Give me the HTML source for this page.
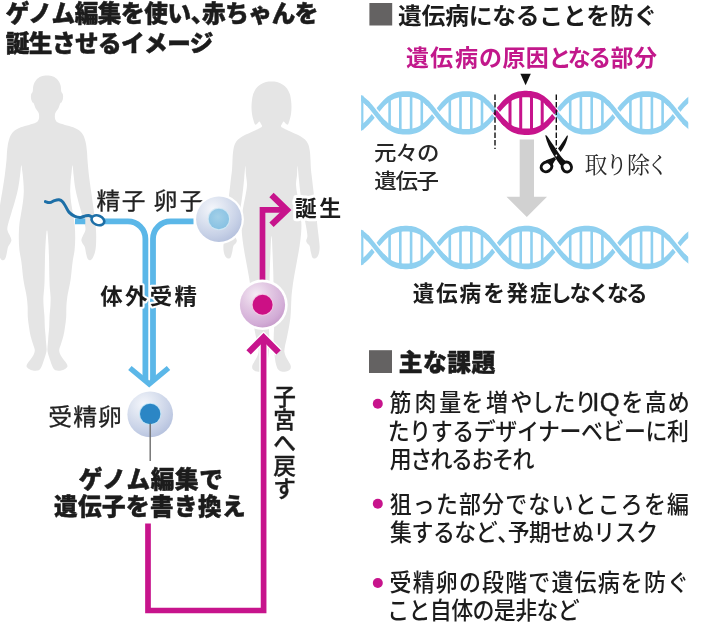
<!DOCTYPE html>
<html lang="ja"><head><meta charset="utf-8"><title>ゲノム編集を使い、赤ちゃんを誕生させるイメージ</title>
<style>
html,body{margin:0;padding:0;background:#fff;}
body{width:701px;height:628px;overflow:hidden;}
svg{display:block;will-change:transform;}
text{white-space:pre;}
</style></head><body>
<svg width="701" height="628" viewBox="0 0 701 628">
<defs>
<radialGradient id="gEgg" cx="0.36" cy="0.28" r="0.78">
<stop offset="0" stop-color="#f4f6fb"/><stop offset="0.35" stop-color="#dfe5f1"/><stop offset="0.75" stop-color="#c6d0e6"/><stop offset="1" stop-color="#b4c0dd"/>
</radialGradient>
<radialGradient id="gEggIn" cx="0.45" cy="0.4" r="0.7">
<stop offset="0" stop-color="#a3d0e8"/><stop offset="1" stop-color="#83bfe2"/>
</radialGradient>
<radialGradient id="gMag" cx="0.36" cy="0.28" r="0.8">
<stop offset="0" stop-color="#f5ebf5"/><stop offset="0.4" stop-color="#e2c8e3"/><stop offset="0.8" stop-color="#d2acd6"/><stop offset="1" stop-color="#c497c8"/>
</radialGradient>
</defs>
<rect width="701" height="628" fill="#fff"/>

<path fill="#e5e5e5" d="M47.0,75.5 C49.0,75.5 51.2,75.8 53.0,76.6 C54.8,77.3 56.5,78.5 57.8,80.0 C59.1,81.5 60.0,83.6 60.6,85.5 C61.2,87.4 60.9,90.0 61.3,91.5 C61.7,93.0 62.6,93.2 62.9,94.5 C63.2,95.8 63.1,97.7 62.9,99.0 C62.6,100.3 61.8,101.8 61.4,102.6 C61.0,103.3 60.7,102.5 60.2,103.5 C59.7,104.5 59.1,107.0 58.3,108.5 C57.5,110.0 56.2,111.3 55.6,112.5 C55.0,113.7 55.0,114.3 54.9,115.5 C54.8,116.7 54.8,118.3 55.3,119.5 C55.8,120.7 56.4,121.7 58.0,122.6 C59.6,123.5 62.5,124.2 65.0,125.0 C67.5,125.8 70.9,126.4 73.2,127.3 C75.5,128.2 77.4,129.1 79.0,130.3 C80.6,131.6 81.9,132.9 83.0,134.8 C84.1,136.8 84.9,139.1 85.6,142.0 C86.3,144.9 86.7,149.0 87.0,152.0 C87.3,155.0 87.2,156.0 87.5,160.0 C87.8,164.0 88.4,170.7 89.0,176.0 C89.6,181.3 90.5,186.7 91.2,192.0 C91.9,197.3 92.7,202.5 93.4,207.8 C94.1,213.1 94.9,218.9 95.4,223.7 C95.9,228.5 96.2,232.2 96.2,236.4 C96.2,240.6 96.1,245.6 95.6,249.0 C95.1,252.4 94.1,255.1 93.2,257.0 C92.3,258.9 91.3,259.9 90.4,260.2 C89.5,260.5 88.5,260.0 87.8,259.0 C87.1,258.0 86.7,256.0 86.2,254.0 C85.7,252.0 85.4,248.8 84.8,247.0 C84.2,245.2 83.2,244.6 82.6,243.4 C82.0,242.2 81.3,241.3 81.4,240.0 C81.5,238.7 82.3,237.3 83.0,235.6 C83.7,233.9 85.1,232.0 85.4,230.0 C85.7,228.0 85.3,226.6 84.6,223.7 C83.9,220.8 82.5,216.5 81.4,212.5 C80.3,208.5 78.9,203.9 77.9,199.8 C76.9,195.7 75.9,192.1 75.2,188.0 C74.5,183.9 74.0,178.8 73.6,175.0 C73.2,171.2 72.9,165.7 72.6,165.2 C72.3,164.7 71.9,169.2 71.6,172.0 C71.3,174.8 70.8,178.7 70.6,182.0 C70.4,185.3 70.1,188.5 70.2,192.0 C70.3,195.5 70.7,199.3 71.2,203.0 C71.7,206.7 72.4,210.3 73.0,214.0 C73.6,217.7 74.3,221.0 74.7,225.0 C75.1,229.0 75.2,233.8 75.2,238.0 C75.2,242.2 75.0,246.0 74.6,250.0 C74.2,254.0 73.2,257.2 72.6,262.0 C71.9,266.8 71.4,274.3 70.7,279.0 C70.0,283.7 69.2,287.0 68.6,290.0 C68.0,293.0 67.7,294.3 67.3,297.0 C66.9,299.7 66.6,302.7 66.4,306.0 C66.2,309.3 66.4,313.5 66.2,317.0 C66.0,320.5 65.5,323.8 65.0,327.0 C64.5,330.2 64.1,333.2 63.4,336.0 C62.7,338.8 61.7,341.7 61.0,344.0 C60.3,346.3 59.3,348.2 59.2,350.0 C59.1,351.8 59.8,353.4 60.5,355.0 C61.2,356.6 62.5,358.1 63.5,359.5 C64.5,360.9 65.8,362.3 66.5,363.5 C67.2,364.7 67.7,365.6 67.4,366.5 C67.2,367.4 66.1,368.3 65.0,369.0 C63.9,369.7 62.3,370.3 61.0,370.6 C59.7,370.9 58.2,370.8 57.0,370.6 C55.8,370.4 54.8,370.1 54.0,369.3 C53.2,368.5 52.8,367.4 52.2,366.0 C51.6,364.6 51.0,362.8 50.4,361.0 C49.8,359.2 49.1,357.3 48.6,355.5 C48.1,353.7 47.5,352.1 47.4,350.0 C47.3,347.9 47.7,345.3 47.9,343.0 C48.1,340.7 48.2,338.7 48.4,336.0 C48.6,333.3 49.0,330.2 49.2,327.0 C49.4,323.8 49.3,320.5 49.5,317.0 C49.7,313.5 50.2,309.3 50.4,306.0 C50.6,302.7 50.7,300.0 50.6,297.0 C50.5,294.0 50.0,291.0 49.8,288.0 C49.6,285.0 49.5,283.3 49.4,279.0 C49.3,274.7 49.2,267.7 49.1,262.0 C49.0,256.3 48.8,249.8 48.5,245.0 C48.2,240.2 47.9,235.4 47.6,233.0 C47.4,230.6 47.2,230.5 47.0,230.5 C46.8,230.5 46.6,230.6 46.4,233.0 C46.1,235.4 45.8,240.2 45.5,245.0 C45.2,249.8 45.0,256.3 44.9,262.0 C44.8,267.7 44.7,274.7 44.6,279.0 C44.5,283.3 44.4,285.0 44.2,288.0 C44.0,291.0 43.5,294.0 43.4,297.0 C43.3,300.0 43.4,302.7 43.6,306.0 C43.8,309.3 44.3,313.5 44.5,317.0 C44.7,320.5 44.6,323.8 44.8,327.0 C45.0,330.2 45.4,333.3 45.6,336.0 C45.8,338.7 45.9,340.7 46.1,343.0 C46.3,345.3 46.7,347.9 46.6,350.0 C46.5,352.1 45.9,353.7 45.4,355.5 C44.9,357.3 44.2,359.2 43.6,361.0 C43.0,362.8 42.4,364.6 41.8,366.0 C41.2,367.4 40.8,368.5 40.0,369.3 C39.2,370.1 38.2,370.4 37.0,370.6 C35.8,370.8 34.3,370.9 33.0,370.6 C31.7,370.3 30.1,369.7 29.0,369.0 C27.9,368.3 26.8,367.4 26.6,366.5 C26.3,365.6 26.8,364.7 27.5,363.5 C28.2,362.3 29.5,360.9 30.5,359.5 C31.5,358.1 32.8,356.6 33.5,355.0 C34.2,353.4 34.9,351.8 34.8,350.0 C34.7,348.2 33.7,346.3 33.0,344.0 C32.3,341.7 31.3,338.8 30.6,336.0 C29.9,333.2 29.5,330.2 29.0,327.0 C28.5,323.8 28.0,320.5 27.8,317.0 C27.6,313.5 27.8,309.3 27.6,306.0 C27.4,302.7 27.1,299.7 26.7,297.0 C26.3,294.3 26.0,293.0 25.4,290.0 C24.8,287.0 24.0,283.7 23.3,279.0 C22.6,274.3 22.1,266.8 21.4,262.0 C20.8,257.2 19.8,254.0 19.4,250.0 C19.0,246.0 18.8,242.2 18.8,238.0 C18.8,233.8 18.9,229.0 19.3,225.0 C19.7,221.0 20.4,217.7 21.0,214.0 C21.6,210.3 22.3,206.7 22.8,203.0 C23.3,199.3 23.7,195.5 23.8,192.0 C23.9,188.5 23.6,185.3 23.4,182.0 C23.2,178.7 22.8,174.8 22.4,172.0 C22.0,169.2 21.7,164.7 21.3,165.2 C20.9,165.7 20.6,171.2 20.1,175.0 C19.6,178.8 19.0,183.9 18.2,188.0 C17.4,192.1 16.4,195.7 15.3,199.8 C14.2,203.9 12.7,208.5 11.5,212.5 C10.4,216.5 8.9,220.8 8.2,223.7 C7.5,226.6 7.1,228.0 7.4,230.0 C7.7,232.0 9.1,233.9 9.8,235.6 C10.5,237.3 11.3,238.7 11.4,240.0 C11.5,241.3 10.8,242.2 10.2,243.4 C9.6,244.6 8.6,245.2 8.0,247.0 C7.4,248.8 7.1,252.0 6.6,254.0 C6.1,256.0 5.7,258.0 5.0,259.0 C4.3,260.0 3.3,260.5 2.4,260.2 C1.5,259.9 0.5,258.9 -0.4,257.0 C-1.3,255.1 -2.3,252.4 -2.8,249.0 C-3.3,245.6 -3.4,240.6 -3.4,236.4 C-3.4,232.2 -3.1,228.5 -2.6,223.7 C-2.1,218.9 -1.1,213.1 -0.4,207.8 C0.4,202.5 1.3,197.3 2.2,192.0 C3.0,186.7 4.0,181.3 4.7,176.0 C5.4,170.7 6.1,164.0 6.5,160.0 C6.9,156.0 6.7,155.0 7.0,152.0 C7.3,149.0 7.7,144.9 8.4,142.0 C9.1,139.1 9.9,136.8 11.0,134.8 C12.1,132.9 13.4,131.6 15.0,130.3 C16.6,129.1 18.5,128.2 20.8,127.3 C23.1,126.4 26.5,125.8 29.0,125.0 C31.5,124.2 34.4,123.5 36.0,122.6 C37.6,121.7 38.2,120.7 38.7,119.5 C39.2,118.3 39.2,116.7 39.1,115.5 C39.0,114.3 39.0,113.7 38.4,112.5 C37.8,111.3 36.5,110.0 35.7,108.5 C34.9,107.0 34.3,104.5 33.8,103.5 C33.3,102.5 33.0,103.3 32.6,102.6 C32.2,101.8 31.4,100.3 31.1,99.0 C30.9,97.7 30.8,95.8 31.1,94.5 C31.4,93.2 32.3,93.0 32.7,91.5 C33.1,90.0 32.8,87.4 33.4,85.5 C34.0,83.6 34.9,81.5 36.2,80.0 C37.5,78.5 39.2,77.3 41.0,76.6 C42.8,75.8 45.0,75.5 47.0,75.5 Z"/>
<path fill="#e5e5e5" d="M271.5,81.5 C273.3,81.5 275.2,81.5 277.0,82.0 C278.8,82.5 280.8,83.4 282.5,84.5 C284.2,85.6 285.8,86.9 287.0,88.5 C288.2,90.1 289.1,92.1 289.8,94.0 C290.5,95.9 290.7,97.8 291.0,100.0 C291.3,102.2 291.5,104.7 291.5,107.0 C291.5,109.3 291.3,111.8 291.0,114.0 C290.7,116.2 290.1,118.2 289.6,120.0 C289.1,121.8 288.5,124.0 287.8,124.6 C287.1,125.2 286.3,124.1 285.6,123.6 C284.9,123.1 284.2,121.5 283.6,121.6 C283.0,121.7 282.4,123.2 282.0,124.0 C281.6,124.8 280.8,125.5 281.0,126.2 C281.2,126.9 281.8,127.3 283.0,128.0 C284.2,128.7 286.2,129.6 288.0,130.5 C289.8,131.4 292.0,132.3 294.0,133.2 C296.0,134.1 298.2,134.9 300.0,136.0 C301.8,137.1 303.6,138.2 305.0,139.6 C306.4,141.0 307.5,142.6 308.3,144.5 C309.1,146.4 309.4,148.4 309.8,151.0 C310.2,153.6 310.3,156.8 310.5,160.0 C310.7,163.2 310.7,166.7 311.0,170.0 C311.3,173.3 311.8,176.3 312.2,180.0 C312.6,183.7 313.1,188.0 313.6,192.0 C314.1,196.0 314.5,200.0 315.0,204.0 C315.5,208.0 316.0,212.0 316.4,216.0 C316.8,220.0 317.2,224.3 317.6,228.0 C318.0,231.7 318.5,235.0 318.8,238.0 C319.1,241.0 319.5,243.7 319.6,246.0 C319.7,248.3 319.5,250.3 319.2,252.0 C318.9,253.7 318.3,255.3 317.6,256.4 C316.9,257.5 315.9,258.2 315.0,258.4 C314.1,258.6 313.1,258.5 312.4,257.4 C311.7,256.3 311.3,253.9 310.8,252.0 C310.3,250.1 310.2,247.4 309.6,246.0 C309.0,244.6 308.0,244.5 307.4,243.6 C306.8,242.7 306.2,241.9 306.2,240.6 C306.2,239.3 307.4,238.4 307.4,236.0 C307.4,233.6 306.6,229.7 306.0,226.0 C305.4,222.3 304.3,218.0 303.6,214.0 C302.9,210.0 302.2,206.0 301.6,202.0 C301.0,198.0 300.5,194.0 300.0,190.0 C299.5,186.0 299.2,182.0 298.8,178.0 C298.4,174.0 297.9,166.5 297.6,166.0 C297.3,165.5 297.3,171.8 297.0,175.0 C296.7,178.2 295.9,181.7 296.0,185.0 C296.1,188.3 296.8,191.7 297.4,195.0 C298.0,198.3 298.8,201.5 299.4,205.0 C300.0,208.5 300.7,212.2 301.0,216.0 C301.3,219.8 301.5,224.0 301.4,228.0 C301.3,232.0 300.9,236.0 300.4,240.0 C299.9,244.0 299.3,248.0 298.6,252.0 C297.9,256.0 297.1,260.0 296.4,264.0 C295.7,268.0 294.9,272.0 294.2,276.0 C293.5,280.0 292.9,284.3 292.4,288.0 C291.9,291.7 291.6,294.7 291.4,298.0 C291.2,301.3 291.2,304.7 291.0,308.0 C290.8,311.3 290.8,314.7 290.4,318.0 C290.0,321.3 289.4,324.7 288.8,328.0 C288.2,331.3 287.4,335.0 286.8,338.0 C286.2,341.0 285.4,343.7 285.0,346.0 C284.6,348.3 284.2,350.2 284.4,352.0 C284.6,353.8 285.3,355.4 286.0,357.0 C286.7,358.6 287.8,360.0 288.6,361.5 C289.4,363.0 290.6,364.6 290.8,366.0 C291.0,367.4 290.8,368.7 290.0,369.6 C289.2,370.5 287.4,371.3 286.0,371.6 C284.6,371.9 282.8,371.9 281.5,371.6 C280.2,371.3 279.1,370.7 278.2,369.6 C277.3,368.5 276.7,366.8 276.2,365.0 C275.7,363.2 275.3,361.2 275.0,359.0 C274.7,356.8 274.4,354.5 274.2,352.0 C274.0,349.5 273.7,347.0 273.6,344.0 C273.5,341.0 273.7,337.7 273.8,334.0 C273.9,330.3 274.3,326.0 274.4,322.0 C274.5,318.0 274.6,314.0 274.6,310.0 C274.6,306.0 274.4,302.0 274.2,298.0 C274.0,294.0 273.8,290.7 273.6,286.0 C273.4,281.3 273.4,275.3 273.2,270.0 C273.0,264.7 272.8,259.0 272.6,254.0 C272.4,249.0 272.2,243.0 272.0,240.0 C271.8,237.0 271.7,236.0 271.5,236.0 C271.3,236.0 271.2,237.0 271.0,240.0 C270.8,243.0 270.6,249.0 270.4,254.0 C270.2,259.0 270.0,264.7 269.8,270.0 C269.6,275.3 269.6,281.3 269.4,286.0 C269.2,290.7 269.0,294.0 268.8,298.0 C268.6,302.0 268.4,306.0 268.4,310.0 C268.4,314.0 268.5,318.0 268.6,322.0 C268.7,326.0 269.1,330.3 269.2,334.0 C269.3,337.7 269.5,341.0 269.4,344.0 C269.3,347.0 269.0,349.5 268.8,352.0 C268.6,354.5 268.3,356.8 268.0,359.0 C267.7,361.2 267.3,363.2 266.8,365.0 C266.3,366.8 265.7,368.5 264.8,369.6 C263.9,370.7 262.8,371.3 261.5,371.6 C260.2,371.9 258.4,371.9 257.0,371.6 C255.6,371.3 253.8,370.5 253.0,369.6 C252.2,368.7 252.0,367.4 252.2,366.0 C252.4,364.6 253.6,363.0 254.4,361.5 C255.2,360.0 256.3,358.6 257.0,357.0 C257.7,355.4 258.4,353.8 258.6,352.0 C258.8,350.2 258.4,348.3 258.0,346.0 C257.6,343.7 256.8,341.0 256.2,338.0 C255.6,335.0 254.8,331.3 254.2,328.0 C253.6,324.7 253.0,321.3 252.6,318.0 C252.2,314.7 252.2,311.3 252.0,308.0 C251.8,304.7 251.8,301.3 251.6,298.0 C251.4,294.7 251.1,291.7 250.6,288.0 C250.1,284.3 249.5,280.0 248.8,276.0 C248.1,272.0 247.3,268.0 246.6,264.0 C245.9,260.0 245.1,256.0 244.4,252.0 C243.7,248.0 243.1,244.0 242.6,240.0 C242.1,236.0 241.7,232.0 241.6,228.0 C241.5,224.0 241.7,219.8 242.0,216.0 C242.3,212.2 243.0,208.5 243.6,205.0 C244.2,201.5 245.0,198.3 245.6,195.0 C246.2,191.7 246.9,188.3 247.0,185.0 C247.1,181.7 246.3,178.2 246.0,175.0 C245.7,171.8 245.7,165.5 245.4,166.0 C245.1,166.5 244.6,174.0 244.2,178.0 C243.8,182.0 243.5,186.0 243.0,190.0 C242.5,194.0 242.0,198.0 241.4,202.0 C240.8,206.0 240.1,210.0 239.4,214.0 C238.7,218.0 237.6,222.3 237.0,226.0 C236.4,229.7 235.6,233.6 235.6,236.0 C235.6,238.4 236.8,239.3 236.8,240.6 C236.8,241.9 236.2,242.7 235.6,243.6 C235.0,244.5 234.0,244.6 233.4,246.0 C232.8,247.4 232.7,250.1 232.2,252.0 C231.7,253.9 231.3,256.3 230.6,257.4 C229.9,258.5 228.9,258.6 228.0,258.4 C227.1,258.2 226.1,257.5 225.4,256.4 C224.7,255.3 224.1,253.7 223.8,252.0 C223.5,250.3 223.3,248.3 223.4,246.0 C223.5,243.7 223.9,241.0 224.2,238.0 C224.5,235.0 225.0,231.7 225.4,228.0 C225.8,224.3 226.2,220.0 226.6,216.0 C227.0,212.0 227.5,208.0 228.0,204.0 C228.5,200.0 228.9,196.0 229.4,192.0 C229.9,188.0 230.4,183.7 230.8,180.0 C231.2,176.3 231.7,173.3 232.0,170.0 C232.3,166.7 232.3,163.2 232.5,160.0 C232.7,156.8 232.8,153.6 233.2,151.0 C233.6,148.4 233.9,146.4 234.7,144.5 C235.5,142.6 236.6,141.0 238.0,139.6 C239.4,138.2 241.2,137.1 243.0,136.0 C244.8,134.9 247.0,134.1 249.0,133.2 C251.0,132.3 253.2,131.4 255.0,130.5 C256.8,129.6 258.8,128.7 260.0,128.0 C261.2,127.3 261.8,126.9 262.0,126.2 C262.2,125.5 261.4,124.8 261.0,124.0 C260.6,123.2 260.0,121.7 259.4,121.6 C258.8,121.5 258.1,123.1 257.4,123.6 C256.7,124.1 255.9,125.2 255.2,124.6 C254.5,124.0 253.9,121.8 253.4,120.0 C252.9,118.2 252.3,116.2 252.0,114.0 C251.7,111.8 251.5,109.3 251.5,107.0 C251.5,104.7 251.7,102.2 252.0,100.0 C252.3,97.8 252.5,95.9 253.2,94.0 C253.9,92.1 254.8,90.1 256.0,88.5 C257.2,86.9 258.8,85.6 260.5,84.5 C262.2,83.4 264.2,82.5 266.0,82.0 C267.8,81.5 269.7,81.5 271.5,81.5 Z"/>
<text transform="matrix(1.0000 0 0 1 5.79 22.16)" font-size="23.60" font-weight="900" fill="#1c1c1c" font-family='"Liberation Sans", "Noto Sans CJK JP", sans-serif' letter-spacing="-0.397" stroke="#1c1c1c" stroke-width="0.5" stroke-linejoin="round">ゲノム編集を使い<tspan style="font-feature-settings:'halt'">、</tspan>赤ちゃんを</text>
<text transform="matrix(1.0000 0 0 1 5.79 52.36)" font-size="23.60" font-weight="900" fill="#1c1c1c" font-family='"Liberation Sans", "Noto Sans CJK JP", sans-serif' letter-spacing="-0.539" stroke="#1c1c1c" stroke-width="0.5" stroke-linejoin="round">誕生させるイメージ</text>
<path d="M75,221.3 H85.3 M103.5,221.3 H127.9 A17.5,17.5 0 0 1 145.4,238.8 V381" fill="none" stroke="#5bb7e8" stroke-width="5.8"/>
<path d="M193.5,221.3 H170.5 A17.5,17.5 0 0 0 153,238.8 V381" fill="none" stroke="#5bb7e8" stroke-width="5.8"/>
<path d="M129.9,368 L149.2,384 L168.5,368" fill="none" stroke="#5bb7e8" stroke-width="5.4" stroke-linejoin="miter"/>
<g fill="none" stroke-linecap="round" stroke-linejoin="round"><ellipse cx="97.9" cy="220.3" rx="6.6" ry="4.7" transform="rotate(22 97.9 220.3)" fill="#fff" stroke="none"/><path d="M45.4,201.6 C46.1,201.8 48.3,202.8 49.8,202.6 C51.3,202.4 53.0,201.1 54.5,200.6 C56.0,200.1 57.6,199.6 59.0,199.8 C60.4,200.0 61.7,200.8 62.8,202.0 C63.9,203.2 64.7,205.0 65.8,206.7 C66.9,208.4 67.7,210.8 69.2,212.4 C70.7,214.0 73.0,215.6 74.9,216.4 C76.8,217.2 78.8,217.5 80.6,217.4 C82.3,217.3 84.1,216.2 85.4,215.9 C86.7,215.6 87.6,215.3 88.6,215.4 C89.6,215.5 90.9,216.4 91.4,216.6" stroke="#1d6fa7" stroke-width="3"/><ellipse cx="97.9" cy="220.3" rx="6.6" ry="4.7" transform="rotate(22 97.9 220.3)" stroke="#1d6fa7" stroke-width="2.6"/></g>
<text transform="matrix(1.0400 0 0 1 96.59 209.33)" font-size="22.80" font-weight="400" fill="#222" font-family='"Liberation Sans", "Noto Sans CJK JP", sans-serif' letter-spacing="1.320" stroke="#222" stroke-width="0.3" stroke-linejoin="round">精子</text>
<text transform="matrix(1.0400 0 0 1 153.85 209.33)" font-size="22.80" font-weight="400" fill="#222" font-family='"Liberation Sans", "Noto Sans CJK JP", sans-serif' letter-spacing="2.029" stroke="#222" stroke-width="0.3" stroke-linejoin="round">卵子</text>
<rect x="140" y="283" width="18" height="28" fill="#fff" opacity="0.0"/>
<text transform="matrix(1.0300 0 0 1 100.25 304.03)" font-size="21.80" font-weight="700" fill="#1c1c1c" font-family='"Liberation Sans", "Noto Sans CJK JP", sans-serif' letter-spacing="2.235" stroke="#fff" stroke-width="4" paint-order="stroke" stroke-linejoin="round">体外受精</text>
<circle cx="218.9" cy="219.2" r="25" fill="#fff"/><circle cx="218.9" cy="219.2" r="22.8" fill="url(#gEgg)"/><circle cx="218.9" cy="219" r="11.2" fill="#cfe6f3"/><circle cx="218.9" cy="219" r="10.2" fill="url(#gEggIn)"/>
<g fill="none" stroke="#fff" stroke-width="8.6" stroke-linecap="butt"><path d="M248.6,352.4 L263.6,337.3 L278.6,352.4"/><path d="M263.6,337.5 V380"/></g>
<g fill="none" stroke="#c7148c" stroke-width="5.7"><path d="M148,523.5 V610.5 H263.6 V337.5"/><path d="M262.5,282 V209.8 H286"/></g>
<g fill="none" stroke="#c7148c" stroke-width="6.2"><path d="M248.6,352.4 L263.6,337.3 L278.6,352.4"/><path d="M271.5,195 L287,209.9 L271.5,224.8"/></g>
<circle cx="262.5" cy="304.8" r="25.2" fill="#fff"/><circle cx="262.5" cy="304.8" r="22.6" fill="url(#gMag)"/><circle cx="262.6" cy="304.7" r="10.9" fill="#f3c3e3"/>
<circle cx="262.6" cy="304.7" r="10" fill="#cc1085"/>
<text transform="matrix(1.0000 0 0 1 294.64 216.42)" font-size="21.90" font-weight="700" fill="#1c1c1c" font-family='"Liberation Sans", "Noto Sans CJK JP", sans-serif' letter-spacing="2.752" stroke="#fff" stroke-width="6" paint-order="stroke" stroke-linejoin="round">誕生</text>
<circle cx="150.2" cy="414.4" r="24.6" fill="#fff"/><circle cx="150.2" cy="414.4" r="22.8" fill="url(#gEgg)"/><circle cx="150.2" cy="414" r="11.1" fill="#bfe3f5"/><circle cx="150.2" cy="414" r="10.2" fill="#2b86c5"/>
<line x1="150.2" y1="423.6" x2="150.2" y2="461" stroke="#6e6e6e" stroke-width="1.4"/>
<text transform="matrix(1.0400 0 0 1 48.27 424.62)" font-size="22.90" font-weight="400" fill="#222" font-family='"Liberation Sans", "Noto Sans CJK JP", sans-serif' letter-spacing="1.003" stroke="#222" stroke-width="0.3" stroke-linejoin="round">受精卵</text>
<text transform="matrix(1.0000 0 0 1 78.69 487.96)" font-size="23.60" font-weight="900" fill="#1c1c1c" font-family='"Liberation Sans", "Noto Sans CJK JP", sans-serif' letter-spacing="0.646" stroke="#1c1c1c" stroke-width="0.5" stroke-linejoin="round">ゲノム編集で</text>
<text transform="matrix(1.0000 0 0 1 54.09 515.46)" font-size="23.60" font-weight="900" fill="#1c1c1c" font-family='"Liberation Sans", "Noto Sans CJK JP", sans-serif' letter-spacing="0.394" stroke="#1c1c1c" stroke-width="0.5" stroke-linejoin="round">遺伝子を書き換え</text>
<text x="284.6 284.6 284.6 284.6 284.6" y="404.8 427.8 450.9 473.9 497.0" font-size="22.6" font-weight="500" fill="#1c1c1c" stroke="#1c1c1c" stroke-width="0.35" font-family='"Liberation Sans", "Noto Sans CJK JP", sans-serif' text-anchor="middle">子宮へ戻す</text>
<rect x="369.4" y="3" width="22.8" height="22.5" fill="#646262"/>
<text transform="matrix(1.0300 0 0 1 398.09 23.51)" font-size="23.10" font-weight="700" fill="#1c1c1c" font-family='"Liberation Sans", "Noto Sans CJK JP", sans-serif' letter-spacing="-0.241">遺伝病になることを防ぐ</text>
<text transform="matrix(1.0000 0 0 1 0 65.61)" x="417.60 441.60 466.50 490.50 514.00 537.30 560.10 579.30 599.80 622.00 645.40" text-anchor="middle" font-size="23.00" font-weight="700" fill="#c2188b" font-family='"Liberation Sans", "Noto Sans CJK JP", sans-serif'>遺伝病の原因となる部分</text>
<path d="M520.4,73.8 H530.8 L525.6,85.3 Z" fill="#111"/>
<clipPath id="dc1"><rect x="361.1" y="82.9" width="327.19999999999993" height="60"/></clipPath>
<g clip-path="url(#dc1)">
<rect x="388.30" y="98.34" width="2.6" height="29.12" fill="#8fd0f0"/>
<rect x="399.00" y="94.36" width="2.6" height="37.09" fill="#8fd0f0"/>
<rect x="409.80" y="94.36" width="2.6" height="37.09" fill="#8fd0f0"/>
<rect x="420.50" y="98.34" width="2.6" height="29.12" fill="#8fd0f0"/>
<rect x="448.50" y="98.34" width="2.6" height="29.12" fill="#8fd0f0"/>
<rect x="459.20" y="94.36" width="2.6" height="37.09" fill="#8fd0f0"/>
<rect x="470.00" y="94.36" width="2.6" height="37.09" fill="#8fd0f0"/>
<rect x="480.70" y="98.34" width="2.6" height="29.12" fill="#8fd0f0"/>
<rect x="508.50" y="98.34" width="3.0" height="29.12" fill="#c7148c"/>
<rect x="519.20" y="94.36" width="3.0" height="37.09" fill="#c7148c"/>
<rect x="530.00" y="94.36" width="3.0" height="37.09" fill="#c7148c"/>
<rect x="540.70" y="98.34" width="3.0" height="29.12" fill="#c7148c"/>
<rect x="568.90" y="98.34" width="2.6" height="29.12" fill="#8fd0f0"/>
<rect x="579.60" y="94.36" width="2.6" height="37.09" fill="#8fd0f0"/>
<rect x="590.40" y="94.36" width="2.6" height="37.09" fill="#8fd0f0"/>
<rect x="601.10" y="98.34" width="2.6" height="29.12" fill="#8fd0f0"/>
<rect x="629.10" y="98.34" width="2.6" height="29.12" fill="#8fd0f0"/>
<rect x="639.80" y="94.36" width="2.6" height="37.09" fill="#8fd0f0"/>
<rect x="650.60" y="94.36" width="2.6" height="37.09" fill="#8fd0f0"/>
<rect x="661.30" y="98.34" width="2.6" height="29.12" fill="#8fd0f0"/>
<path d="M352.5,97.5 354.3,97.9 356.1,98.5 357.9,99.2 359.7,100.2 361.6,101.4 363.5,102.9 365.4,104.6 367.3,106.6 369.3,108.8 371.3,111.2 373.3,113.7 375.3,116.2 377.3,118.7 379.3,121.1 381.3,123.4 383.4,125.6 385.5,127.5 387.6,129.2 389.8,130.6 392.0,131.8 394.2,132.8 396.4,133.5 398.6,134.0 400.7,134.3 402.9,134.6 405.0,134.6 407.2,134.6 409.3,134.5 411.4,134.2 413.6,133.8 415.8,133.3 418.0,132.5 420.2,131.4 422.4,130.1 424.6,128.6 426.7,126.8 428.8,124.8 430.8,122.6 432.8,120.3 434.8,117.8 436.8,115.3 438.8,112.7 440.8,110.3 442.8,108.0 444.8,105.9 446.7,104.0 448.6,102.3 450.5,101.0 452.4,99.8 454.2,98.9 456.0,98.2 457.7,97.7 459.5,97.3 461.4,97.1 463.2,96.9 465.1,96.9 466.9,96.9 468.8,96.9 470.7,97.1 472.5,97.4 474.3,97.8 476.1,98.3 477.9,99.0 479.7,99.9 481.5,101.1 483.4,102.5 485.3,104.2 487.3,106.1 489.2,108.3 491.2,110.6 493.2,113.0 496.8,110.2 494.8,107.7 492.8,105.2 490.7,102.9 488.7,100.7 486.6,98.7 484.5,97.0 482.4,95.5 480.2,94.2 478.0,93.2 475.8,92.5 473.6,91.9 471.4,91.5 469.2,91.3 467.1,91.2 465.0,91.2 462.8,91.3 460.7,91.5 458.5,91.9 456.3,92.4 454.1,93.1 451.9,94.1 449.7,95.3 447.5,96.8 445.4,98.5 443.3,100.5 441.3,102.6 439.3,105.0 437.3,107.4 435.3,109.9 433.3,112.5 431.3,114.9 429.3,117.2 427.3,119.4 425.3,121.4 423.4,123.1 421.5,124.5 419.7,125.7 417.9,126.7 416.1,127.4 414.3,128.0 412.5,128.4 410.7,128.7 408.8,128.8 407.0,128.9 405.1,128.9 403.2,128.9 401.4,128.7 399.6,128.5 397.8,128.1 396.0,127.6 394.2,127.0 392.4,126.1 390.5,125.0 388.7,123.6 386.8,122.0 384.8,120.2 382.8,118.1 380.9,115.8 378.9,113.4 376.8,110.8 374.9,108.3 372.9,105.8 370.8,103.5 368.8,101.2 366.7,99.2 364.6,97.4 362.5,95.8 360.3,94.5 358.1,93.5 355.9,92.6 353.7,92.0Z" fill="#8fd0f0"/>
<path d="M353.7,133.8 355.9,133.2 358.1,132.3 360.3,131.3 362.5,130.0 364.6,128.4 366.7,126.6 368.8,124.6 370.8,122.3 372.9,120.0 374.9,117.5 376.8,115.0 378.9,112.4 380.9,110.0 382.8,107.7 384.8,105.6 386.8,103.8 388.7,102.2 390.5,100.8 392.4,99.7 394.2,98.8 396.0,98.2 397.8,97.7 399.6,97.3 401.4,97.1 403.2,96.9 405.1,96.9 407.0,96.9 408.8,97.0 410.7,97.1 412.5,97.4 414.3,97.8 416.1,98.4 417.9,99.1 419.7,100.1 421.5,101.3 423.4,102.7 425.3,104.4 427.3,106.4 429.3,108.6 431.3,110.9 433.3,113.3 435.3,115.9 437.3,118.4 439.3,120.8 441.3,123.2 443.3,125.3 445.4,127.3 447.5,129.0 449.7,130.5 451.9,131.7 454.1,132.7 456.3,133.4 458.5,133.9 460.7,134.3 462.8,134.5 465.0,134.6 467.1,134.6 469.2,134.5 471.4,134.3 473.6,133.9 475.8,133.3 478.0,132.6 480.2,131.6 482.4,130.3 484.5,128.8 486.6,127.1 488.7,125.1 490.7,122.9 492.8,120.6 494.8,118.1 496.8,115.6 493.2,112.8 491.2,115.2 489.2,117.5 487.3,119.7 485.3,121.6 483.4,123.3 481.5,124.7 479.7,125.9 477.9,126.8 476.1,127.5 474.3,128.0 472.5,128.4 470.7,128.7 468.8,128.9 466.9,128.9 465.1,128.9 463.2,128.9 461.4,128.7 459.5,128.5 457.7,128.1 456.0,127.6 454.2,126.9 452.4,126.0 450.5,124.8 448.6,123.5 446.7,121.8 444.8,119.9 442.8,117.8 440.8,115.5 438.8,113.1 436.8,110.5 434.8,108.0 432.8,105.5 430.8,103.2 428.8,101.0 426.7,99.0 424.6,97.2 422.4,95.7 420.2,94.4 418.0,93.3 415.8,92.5 413.6,92.0 411.4,91.6 409.3,91.3 407.2,91.2 405.0,91.2 402.9,91.2 400.7,91.5 398.6,91.8 396.4,92.3 394.2,93.0 392.0,94.0 389.8,95.2 387.6,96.6 385.5,98.3 383.4,100.2 381.3,102.4 379.3,104.7 377.3,107.1 375.3,109.6 373.3,112.1 371.3,114.6 369.3,117.0 367.3,119.2 365.4,121.2 363.5,122.9 361.6,124.4 359.7,125.6 357.9,126.6 356.1,127.3 354.3,127.9 352.5,128.3Z" fill="#8fd0f0"/>
<path d="M493.0,113.2 495.0,115.7 497.0,118.2 499.0,120.6 501.0,123.0 503.0,125.2 505.0,127.1 507.1,128.9 509.3,130.4 511.4,131.7 513.6,132.8 515.9,133.6 518.1,134.2 520.2,134.6 522.4,134.8 524.5,135.0 526.6,135.0 528.7,134.9 530.9,134.7 533.0,134.4 535.2,133.9 537.4,133.2 539.6,132.3 541.8,131.1 544.0,129.7 546.1,128.1 548.2,126.2 550.2,124.1 552.2,121.8 554.2,119.4 556.2,117.0 558.2,114.5 554.2,111.3 552.3,113.8 550.3,116.2 548.3,118.4 546.4,120.4 544.5,122.2 542.6,123.7 540.8,125.0 539.0,126.0 537.2,126.8 535.5,127.4 533.7,127.9 532.0,128.2 530.2,128.4 528.4,128.5 526.6,128.6 524.7,128.6 522.9,128.5 521.1,128.3 519.3,128.0 517.6,127.6 515.8,127.1 514.1,126.4 512.3,125.5 510.5,124.3 508.7,122.9 506.8,121.3 504.8,119.4 502.9,117.3 500.9,115.0 498.9,112.6 497.0,110.1Z" fill="#c7148c"/>
<path d="M497.0,115.7 498.9,113.2 500.9,110.8 502.9,108.5 504.8,106.4 506.8,104.5 508.7,102.9 510.5,101.5 512.3,100.3 514.1,99.4 515.8,98.7 517.6,98.2 519.3,97.8 521.1,97.5 522.9,97.3 524.7,97.2 526.6,97.2 528.4,97.3 530.2,97.4 532.0,97.6 533.7,97.9 535.5,98.4 537.2,99.0 539.0,99.8 540.8,100.8 542.6,102.1 544.5,103.6 546.4,105.4 548.3,107.4 550.3,109.6 552.3,112.0 554.2,114.5 558.2,111.3 556.2,108.8 554.2,106.4 552.2,104.0 550.2,101.7 548.2,99.6 546.1,97.7 544.0,96.1 541.8,94.7 539.6,93.5 537.4,92.6 535.2,91.9 533.0,91.4 530.9,91.1 528.7,90.9 526.6,90.8 524.5,90.8 522.4,91.0 520.2,91.2 518.1,91.6 515.9,92.2 513.6,93.0 511.4,94.1 509.3,95.4 507.1,96.9 505.0,98.7 503.0,100.6 501.0,102.8 499.0,105.2 497.0,107.6 495.0,110.1 493.0,112.6Z" fill="#c7148c"/>
<path d="M558.0,114.3 559.9,111.8 561.9,109.5 563.9,107.3 565.8,105.2 567.7,103.4 569.6,101.9 571.5,100.6 573.3,99.5 575.0,98.7 576.8,98.1 578.6,97.6 580.4,97.3 582.2,97.0 584.0,96.9 585.8,96.9 587.7,96.9 589.5,97.0 591.3,97.1 593.1,97.4 594.9,97.8 596.7,98.4 598.4,99.1 600.2,100.0 602.0,101.2 603.9,102.6 605.8,104.3 607.7,106.2 609.7,108.3 611.7,110.6 613.6,113.0 615.6,115.5 617.6,118.0 619.5,120.5 621.5,122.8 623.6,124.9 625.6,126.9 627.7,128.7 629.8,130.2 632.0,131.4 634.2,132.5 636.3,133.2 638.5,133.8 640.7,134.2 642.8,134.5 644.9,134.6 647.0,134.6 649.1,134.6 651.2,134.4 653.4,134.1 655.5,133.6 657.7,132.9 659.9,132.0 662.1,130.9 664.2,129.5 666.3,127.9 668.4,126.0 670.4,123.9 672.4,121.7 674.4,119.3 676.4,116.8 678.3,114.3 680.3,111.9 682.3,109.5 684.2,107.3 686.2,105.3 688.1,103.5 690.0,101.9 691.8,100.6 693.6,99.6 695.4,98.7 697.2,98.1 695.4,92.9 693.2,93.8 691.1,95.0 688.9,96.4 686.8,98.0 684.8,99.9 682.7,101.9 680.7,104.2 678.7,106.6 676.8,109.0 674.8,111.5 672.8,114.0 670.8,116.4 668.9,118.6 666.9,120.6 665.0,122.4 663.2,123.9 661.3,125.2 659.5,126.3 657.7,127.1 656.0,127.7 654.2,128.2 652.4,128.5 650.6,128.8 648.8,128.9 646.9,128.9 645.1,128.9 643.3,128.8 641.4,128.7 639.6,128.4 637.9,128.0 636.1,127.4 634.3,126.7 632.5,125.7 630.7,124.6 628.9,123.2 627.0,121.5 625.0,119.6 623.1,117.4 621.1,115.1 619.1,112.7 617.2,110.2 615.2,107.7 613.2,105.3 611.2,103.0 609.2,100.8 607.2,98.9 605.1,97.1 602.9,95.6 600.8,94.3 598.6,93.3 596.4,92.6 594.3,92.0 592.1,91.6 590.0,91.3 587.9,91.2 585.8,91.2 583.7,91.2 581.5,91.4 579.4,91.8 577.2,92.2 575.1,92.9 572.9,93.8 570.7,95.0 568.6,96.3 566.5,98.0 564.4,99.8 562.4,101.9 560.4,104.1 558.4,106.5 556.4,109.0 554.4,111.5Z" fill="#8fd0f0"/>
<path d="M554.4,114.3 556.4,116.8 558.4,119.3 560.4,121.7 562.4,123.9 564.4,126.0 566.5,127.8 568.6,129.5 570.7,130.8 572.9,132.0 575.1,132.9 577.2,133.6 579.4,134.0 581.5,134.4 583.7,134.6 585.8,134.6 587.9,134.6 590.0,134.5 592.1,134.2 594.3,133.8 596.4,133.2 598.6,132.5 600.8,131.5 602.9,130.2 605.1,128.7 607.2,126.9 609.2,125.0 611.2,122.8 613.2,120.5 615.2,118.1 617.2,115.6 619.1,113.1 621.1,110.7 623.1,108.4 625.0,106.2 627.0,104.3 628.9,102.6 630.7,101.2 632.5,100.1 634.3,99.1 636.1,98.4 637.9,97.8 639.6,97.4 641.4,97.1 643.3,97.0 645.1,96.9 646.9,96.9 648.8,96.9 650.6,97.0 652.4,97.3 654.2,97.6 656.0,98.1 657.7,98.7 659.5,99.5 661.3,100.6 663.2,101.9 665.0,103.4 666.9,105.2 668.9,107.2 670.8,109.4 672.8,111.8 674.8,114.3 676.8,116.8 678.7,119.2 680.7,121.6 682.7,123.9 684.8,125.9 686.8,127.8 688.9,129.4 691.1,130.8 693.2,132.0 695.4,132.9 697.2,127.7 695.4,127.1 693.6,126.2 691.8,125.2 690.0,123.9 688.1,122.3 686.2,120.5 684.2,118.5 682.3,116.3 680.3,113.9 678.3,111.5 676.4,109.0 674.4,106.5 672.4,104.1 670.4,101.9 668.4,99.8 666.3,97.9 664.2,96.3 662.1,94.9 659.9,93.8 657.7,92.9 655.5,92.2 653.4,91.7 651.2,91.4 649.1,91.2 647.0,91.2 644.9,91.2 642.8,91.3 640.7,91.6 638.5,92.0 636.3,92.6 634.2,93.3 632.0,94.4 629.8,95.6 627.7,97.1 625.6,98.9 623.6,100.9 621.5,103.0 619.5,105.3 617.6,107.8 615.6,110.3 613.6,112.8 611.7,115.2 609.7,117.5 607.7,119.6 605.8,121.5 603.9,123.2 602.0,124.6 600.2,125.8 598.4,126.7 596.7,127.4 594.9,128.0 593.1,128.4 591.3,128.7 589.5,128.8 587.7,128.9 585.8,128.9 584.0,128.9 582.2,128.8 580.4,128.5 578.6,128.2 576.8,127.7 575.0,127.1 573.3,126.3 571.5,125.2 569.6,123.9 567.7,122.4 565.8,120.6 563.9,118.5 561.9,116.3 559.9,114.0 558.0,111.5Z" fill="#8fd0f0"/>
<path d="M365.8,107.1 366.8,108.1 367.8,109.2 368.8,110.3 369.7,111.5 370.7,112.7 371.7,113.9 372.7,115.2 373.7,116.4 374.7,117.7 375.7,119.0 376.8,120.2 377.8,121.5 378.8,122.7 379.8,123.9 385.4,118.7 384.4,117.7 383.4,116.6 382.4,115.5 381.5,114.3 380.5,113.1 379.5,111.9 378.5,110.6 377.5,109.4 376.5,108.1 375.5,106.8 374.4,105.6 373.4,104.3 372.4,103.1 371.4,101.9Z" fill="#fff"/>
<path d="M364.4,103.8 365.4,104.7 366.4,105.6 367.3,106.6 368.3,107.7 369.3,108.8 370.3,110.0 371.3,111.2 372.3,112.4 373.3,113.7 374.3,114.9 375.3,116.2 376.3,117.5 377.3,118.7 378.3,120.0 379.3,121.2 380.3,122.3 381.4,123.5 382.4,124.6 383.4,125.6 386.8,122.0 385.8,121.1 384.8,120.2 383.9,119.2 382.9,118.1 381.9,117.0 380.9,115.8 379.9,114.6 378.9,113.4 377.9,112.1 376.9,110.9 375.9,109.6 374.9,108.3 373.9,107.1 372.9,105.8 371.9,104.6 370.9,103.5 369.8,102.3 368.8,101.2 367.8,100.2Z" fill="#8fd0f0"/>
<path d="M426.0,107.1 427.0,108.1 428.0,109.2 429.0,110.3 429.9,111.5 430.9,112.7 431.9,113.9 432.9,115.2 433.9,116.4 434.9,117.7 435.9,119.0 437.0,120.2 438.0,121.5 439.0,122.7 440.0,123.9 445.6,118.7 444.6,117.7 443.6,116.6 442.6,115.5 441.7,114.3 440.7,113.1 439.7,111.9 438.7,110.6 437.7,109.4 436.7,108.1 435.7,106.8 434.6,105.6 433.6,104.3 432.6,103.1 431.6,101.9Z" fill="#fff"/>
<path d="M424.6,103.8 425.6,104.7 426.6,105.6 427.5,106.6 428.5,107.7 429.5,108.8 430.5,110.0 431.5,111.2 432.5,112.4 433.5,113.7 434.5,114.9 435.5,116.2 436.5,117.5 437.5,118.7 438.5,120.0 439.5,121.2 440.5,122.3 441.6,123.5 442.6,124.6 443.6,125.6 447.0,122.0 446.0,121.1 445.0,120.2 444.1,119.2 443.1,118.1 442.1,117.0 441.1,115.8 440.1,114.6 439.1,113.4 438.1,112.1 437.1,110.9 436.1,109.6 435.1,108.3 434.1,107.1 433.1,105.8 432.1,104.6 431.1,103.5 430.0,102.3 429.0,101.2 428.0,100.2Z" fill="#8fd0f0"/>
<path d="M486.2,107.1 487.2,108.1 488.2,109.2 489.2,110.3 490.1,111.5 491.1,112.7 492.1,113.9 493.1,115.2 494.1,116.4 495.1,117.7 496.1,119.0 497.2,120.2 498.2,121.5 499.2,122.7 500.2,123.9 505.8,118.7 504.8,117.7 503.8,116.6 502.8,115.5 501.9,114.3 500.9,113.1 499.9,111.9 498.9,110.6 497.9,109.4 496.9,108.1 495.9,106.8 494.8,105.6 493.8,104.3 492.8,103.1 491.8,101.9Z" fill="#fff"/>
<path d="M484.8,103.8 485.7,104.6 486.7,105.5 487.6,106.5 488.5,107.5 489.5,108.5 490.4,109.6 491.3,110.7 492.3,111.9 493.2,113.0 496.8,110.2 495.8,109.0 494.9,107.8 493.9,106.7 493.0,105.5 492.0,104.4 491.1,103.3 490.1,102.2 489.2,101.2 488.2,100.2Z" fill="#8fd0f0"/>
<path d="M493.0,113.2 494.0,114.4 494.9,115.6 495.9,116.8 496.8,118.0 497.8,119.2 498.8,120.4 499.7,121.5 500.7,122.7 501.7,123.8 502.6,124.8 503.6,125.8 507.4,121.8 506.5,121.0 505.5,120.1 504.6,119.1 503.6,118.1 502.7,117.0 501.7,116.0 500.8,114.8 499.8,113.7 498.9,112.5 497.9,111.3 497.0,110.1Z" fill="#c7148c"/>
<path d="M546.4,107.1 547.4,108.1 548.4,109.2 549.4,110.3 550.3,111.5 551.3,112.7 552.3,113.9 553.3,115.2 554.3,116.4 555.3,117.7 556.3,119.0 557.4,120.2 558.4,121.5 559.4,122.7 560.4,123.9 566.0,118.7 565.0,117.7 564.0,116.6 563.0,115.5 562.1,114.3 561.1,113.1 560.1,111.9 559.1,110.6 558.1,109.4 557.1,108.1 556.1,106.8 555.0,105.6 554.0,104.3 553.0,103.1 552.0,101.9Z" fill="#fff"/>
<path d="M544.8,104.0 545.7,104.8 546.7,105.7 547.6,106.7 548.5,107.7 549.5,108.7 550.4,109.8 551.4,110.9 552.3,112.1 553.3,113.3 554.2,114.5 558.2,111.3 557.2,110.1 556.3,108.9 555.3,107.7 554.4,106.5 553.4,105.4 552.5,104.2 551.5,103.1 550.5,102.0 549.6,101.0 548.6,100.0Z" fill="#c7148c"/>
<path d="M554.4,114.3 555.4,115.5 556.3,116.7 557.3,117.9 558.2,119.1 559.2,120.3 560.1,121.4 561.1,122.5 562.1,123.6 563.0,124.6 564.0,125.6 567.4,122.0 566.5,121.2 565.5,120.3 564.6,119.3 563.7,118.3 562.7,117.2 561.8,116.1 560.8,115.0 559.9,113.9 558.9,112.7 558.0,111.5Z" fill="#8fd0f0"/>
<path d="M606.6,107.1 607.6,108.1 608.6,109.2 609.6,110.3 610.5,111.5 611.5,112.7 612.5,113.9 613.5,115.2 614.5,116.4 615.5,117.7 616.5,119.0 617.6,120.2 618.6,121.5 619.6,122.7 620.6,123.9 626.2,118.7 625.2,117.7 624.2,116.6 623.2,115.5 622.3,114.3 621.3,113.1 620.3,111.9 619.3,110.6 618.3,109.4 617.3,108.1 616.3,106.8 615.2,105.6 614.2,104.3 613.2,103.1 612.2,101.9Z" fill="#fff"/>
<path d="M605.2,103.8 606.2,104.7 607.2,105.6 608.1,106.6 609.1,107.7 610.1,108.8 611.1,110.0 612.1,111.2 613.1,112.4 614.1,113.7 615.1,114.9 616.1,116.2 617.1,117.5 618.1,118.7 619.1,120.0 620.1,121.2 621.1,122.3 622.2,123.5 623.2,124.6 624.2,125.6 627.6,122.0 626.6,121.1 625.6,120.2 624.7,119.2 623.7,118.1 622.7,117.0 621.7,115.8 620.7,114.6 619.7,113.4 618.7,112.1 617.7,110.9 616.7,109.6 615.7,108.3 614.7,107.1 613.7,105.8 612.7,104.6 611.7,103.5 610.6,102.3 609.6,101.2 608.6,100.2Z" fill="#8fd0f0"/>
<path d="M666.8,107.1 667.8,108.1 668.8,109.2 669.8,110.3 670.7,111.5 671.7,112.7 672.7,113.9 673.7,115.2 674.7,116.4 675.7,117.7 676.7,119.0 677.8,120.2 678.8,121.5 679.8,122.7 680.8,123.9 686.4,118.7 685.4,117.7 684.4,116.6 683.4,115.5 682.5,114.3 681.5,113.1 680.5,111.9 679.5,110.6 678.5,109.4 677.5,108.1 676.5,106.8 675.4,105.6 674.4,104.3 673.4,103.1 672.4,101.9Z" fill="#fff"/>
<path d="M665.4,103.8 666.4,104.7 667.4,105.6 668.3,106.6 669.3,107.7 670.3,108.8 671.3,110.0 672.3,111.2 673.3,112.4 674.3,113.7 675.3,114.9 676.3,116.2 677.3,117.5 678.3,118.7 679.3,120.0 680.3,121.2 681.3,122.3 682.4,123.5 683.4,124.6 684.4,125.6 687.8,122.0 686.8,121.1 685.8,120.2 684.9,119.2 683.9,118.1 682.9,117.0 681.9,115.8 680.9,114.6 679.9,113.4 678.9,112.1 677.9,110.9 676.9,109.6 675.9,108.3 674.9,107.1 673.9,105.8 672.9,104.6 671.9,103.5 670.8,102.3 669.8,101.2 668.8,100.2Z" fill="#8fd0f0"/>
<rect x="361.1" y="95.7" width="2.3" height="34.4" fill="#8fd0f0"/>
</g>
<line x1="495" y1="94.5" x2="495" y2="149" stroke="#111" stroke-width="1.4" stroke-dasharray="5.4 2.2"/>
<line x1="556.3" y1="94.5" x2="556.3" y2="149" stroke="#111" stroke-width="1.4" stroke-dasharray="5.4 2.2"/>
<path d="M519.7,139.4 H534 V196.8 H547 L526.8,217 L506.5,196.8 H519.7 Z" fill="#d1d1d1"/>
<g fill="#111">
<path d="M545.2,135.2 L546.6,135.6 C549.5,139.5 554.5,147 558.8,153.2 C560.5,155.6 562.6,158.6 565.6,161 L561.4,166.2 C559.6,164.2 558.6,162.6 557.6,161.2 C555.6,158.4 554.6,157 553.8,155.6 C550.2,149.6 546.8,142.4 545.2,135.2 Z"/>
<path d="M567.2,135.3 L567.9,136 C567.3,139.4 566.2,142.4 565.2,144.4 C563.8,147.2 562.2,149.8 560.6,151.9 L558,148.6 C560.4,145.6 564,140.2 567.2,135.3 Z"/>
<path d="M554.3,157 C552,158.2 548.6,159.3 545.6,160.4 L551.6,166.8 C552.6,164.4 554.2,161.6 556,159.3 Z"/>
<ellipse cx="546.5" cy="166.8" rx="5.5" ry="4.7" transform="rotate(-30 546.5 166.8)" fill="none" stroke="#111" stroke-width="3"/>
<ellipse cx="566.8" cy="167" rx="4.6" ry="5" transform="rotate(-25 566.8 167)" fill="none" stroke="#111" stroke-width="2.9"/>
<circle cx="556.3" cy="155.5" r="0.9" fill="#fff"/>
</g>
<text transform="matrix(1.0700 0 0 1 373.98 160.31)" font-size="21.00" font-weight="500" fill="#262626" font-family='"Liberation Sans", "Noto Sans CJK JP", sans-serif' letter-spacing="-0.929">元々の</text>
<text transform="matrix(1.0700 0 0 1 374.20 187.70)" font-size="21.00" font-weight="500" fill="#262626" font-family='"Liberation Sans", "Noto Sans CJK JP", sans-serif' letter-spacing="-1.174">遺伝子</text>
<text transform="matrix(1.0000 0 0 1 0 173.22)" x="595.90 616.60 638.50 657.70" text-anchor="middle" font-size="23.00" font-weight="400" fill="#2a2a2a" font-family='"Liberation Serif", "Noto Serif CJK JP", "Noto Serif CJK SC", serif'>取り除く</text>
<clipPath id="dc2"><rect x="361.1" y="217.5" width="327.19999999999993" height="60"/></clipPath>
<g clip-path="url(#dc2)">
<rect x="388.30" y="232.94" width="2.6" height="29.12" fill="#8fd0f0"/>
<rect x="399.00" y="228.96" width="2.6" height="37.09" fill="#8fd0f0"/>
<rect x="409.80" y="228.96" width="2.6" height="37.09" fill="#8fd0f0"/>
<rect x="420.50" y="232.94" width="2.6" height="29.12" fill="#8fd0f0"/>
<rect x="448.50" y="232.94" width="2.6" height="29.12" fill="#8fd0f0"/>
<rect x="459.20" y="228.96" width="2.6" height="37.09" fill="#8fd0f0"/>
<rect x="470.00" y="228.96" width="2.6" height="37.09" fill="#8fd0f0"/>
<rect x="480.70" y="232.94" width="2.6" height="29.12" fill="#8fd0f0"/>
<rect x="508.70" y="232.94" width="2.6" height="29.12" fill="#8fd0f0"/>
<rect x="519.40" y="228.96" width="2.6" height="37.09" fill="#8fd0f0"/>
<rect x="530.20" y="228.96" width="2.6" height="37.09" fill="#8fd0f0"/>
<rect x="540.90" y="232.94" width="2.6" height="29.12" fill="#8fd0f0"/>
<rect x="568.90" y="232.94" width="2.6" height="29.12" fill="#8fd0f0"/>
<rect x="579.60" y="228.96" width="2.6" height="37.09" fill="#8fd0f0"/>
<rect x="590.40" y="228.96" width="2.6" height="37.09" fill="#8fd0f0"/>
<rect x="601.10" y="232.94" width="2.6" height="29.12" fill="#8fd0f0"/>
<rect x="629.10" y="232.94" width="2.6" height="29.12" fill="#8fd0f0"/>
<rect x="639.80" y="228.96" width="2.6" height="37.09" fill="#8fd0f0"/>
<rect x="650.60" y="228.96" width="2.6" height="37.09" fill="#8fd0f0"/>
<rect x="661.30" y="232.94" width="2.6" height="29.12" fill="#8fd0f0"/>
<path d="M352.5,232.1 354.3,232.5 356.1,233.1 357.9,233.8 359.7,234.8 361.5,236.0 363.4,237.5 365.4,239.2 367.3,241.2 369.3,243.4 371.3,245.7 373.3,248.2 375.3,250.7 377.3,253.2 379.3,255.7 381.3,258.0 383.3,260.1 385.4,262.1 387.5,263.8 389.7,265.2 391.9,266.4 394.1,267.3 396.3,268.1 398.5,268.6 400.7,268.9 402.8,269.1 404.9,269.2 407.1,269.2 409.2,269.1 411.3,268.9 413.5,268.5 415.7,267.9 417.9,267.1 420.1,266.1 422.3,264.8 424.4,263.3 426.6,261.5 428.6,259.6 430.7,257.4 432.7,255.0 434.7,252.5 436.7,250.0 438.7,247.5 440.7,245.1 442.7,242.8 444.6,240.6 446.6,238.7 448.5,237.1 450.4,235.6 452.2,234.5 454.0,233.6 455.8,232.9 457.6,232.4 459.4,232.0 461.2,231.7 463.1,231.5 464.9,231.5 466.8,231.5 468.6,231.5 470.5,231.7 472.3,231.9 474.1,232.3 475.9,232.8 477.7,233.5 479.5,234.4 481.3,235.6 483.2,237.0 485.1,238.6 487.0,240.5 489.0,242.6 491.0,244.9 493.0,247.4 495.0,249.9 497.0,252.4 499.0,254.9 501.0,257.2 503.0,259.4 505.1,261.4 507.2,263.2 509.4,264.7 511.5,266.0 513.7,267.0 515.9,267.8 518.1,268.4 520.3,268.8 522.5,269.1 524.6,269.2 526.7,269.2 528.9,269.2 531.0,269.0 533.2,268.6 535.4,268.1 537.6,267.4 539.8,266.5 542.0,265.3 544.1,263.9 546.2,262.2 548.3,260.3 550.4,258.1 552.4,255.8 554.4,253.4 556.4,250.9 558.4,248.4 560.4,245.9 562.4,243.5 564.4,241.3 566.3,239.3 568.2,237.6 570.1,236.1 572.0,234.9 573.8,233.9 575.6,233.1 577.4,232.5 579.2,232.1 581.0,231.8 582.8,231.6 584.7,231.5 586.5,231.5 588.4,231.5 590.3,231.6 592.1,231.8 593.9,232.2 595.7,232.6 597.5,233.3 599.3,234.1 601.1,235.2 602.9,236.5 604.8,238.0 606.8,239.8 608.7,241.9 610.7,244.1 612.7,246.5 614.7,249.0 616.7,251.5 618.7,254.0 620.7,256.4 622.7,258.7 624.8,260.8 626.9,262.6 629.0,264.2 631.2,265.6 633.4,266.7 635.6,267.6 637.8,268.3 640.0,268.7 642.1,269.0 644.3,269.2 646.4,269.2 648.5,269.2 650.7,269.0 652.8,268.7 655.0,268.3 657.2,267.7 659.4,266.8 661.6,265.7 663.8,264.4 665.9,262.8 668.0,260.9 670.1,258.9 672.1,256.6 674.1,254.2 676.1,251.7 678.1,249.2 680.1,246.7 682.1,244.3 684.1,242.1 686.1,240.0 688.0,238.2 689.9,236.6 691.8,235.3 693.6,234.2 695.4,233.3 697.2,232.7 695.4,227.5 693.2,228.4 691.0,229.6 688.9,231.0 686.7,232.7 684.7,234.6 682.6,236.7 680.6,239.0 678.6,241.4 676.6,243.9 674.6,246.4 672.6,248.9 670.6,251.3 668.6,253.5 666.6,255.5 664.7,257.3 662.8,258.8 661.0,260.0 659.1,261.0 657.4,261.8 655.6,262.4 653.8,262.9 652.0,263.2 650.1,263.4 648.3,263.5 646.4,263.5 644.6,263.5 642.7,263.4 640.9,263.2 639.1,262.9 637.3,262.4 635.5,261.8 633.7,261.0 631.9,259.9 630.0,258.7 628.1,257.1 626.2,255.3 624.2,253.3 622.2,251.1 620.3,248.7 618.2,246.2 616.3,243.7 614.3,241.2 612.3,238.8 610.2,236.5 608.2,234.4 606.1,232.5 604.0,230.9 601.8,229.5 599.6,228.4 597.4,227.5 595.2,226.8 593.0,226.3 590.8,226.0 588.7,225.8 586.6,225.8 584.4,225.8 582.3,225.9 580.2,226.2 578.0,226.7 575.8,227.3 573.6,228.1 571.4,229.2 569.2,230.5 567.1,232.1 565.0,233.9 562.9,235.9 560.9,238.2 558.8,240.6 556.8,243.0 554.9,245.6 552.9,248.1 550.9,250.5 548.9,252.7 546.9,254.8 545.0,256.7 543.1,258.3 541.2,259.6 539.4,260.7 537.6,261.6 535.8,262.3 534.0,262.7 532.2,263.1 530.4,263.3 528.5,263.5 526.7,263.5 524.8,263.5 522.9,263.4 521.1,263.3 519.3,263.0 517.5,262.6 515.7,262.0 513.9,261.3 512.1,260.3 510.3,259.1 508.4,257.7 506.5,256.0 504.5,254.0 502.5,251.8 500.5,249.5 498.5,247.1 496.5,244.5 494.5,242.0 492.5,239.6 490.5,237.2 488.5,235.1 486.4,233.1 484.3,231.4 482.1,229.9 479.9,228.7 477.7,227.7 475.5,227.0 473.3,226.5 471.2,226.1 469.0,225.9 466.9,225.8 464.8,225.8 462.6,225.9 460.5,226.1 458.3,226.5 456.1,227.0 453.9,227.8 451.7,228.8 449.5,230.0 447.4,231.5 445.3,233.3 443.2,235.2 441.1,237.4 439.1,239.7 437.1,242.2 435.1,244.7 433.1,247.2 431.1,249.7 429.2,252.0 427.2,254.1 425.2,256.1 423.3,257.8 421.4,259.2 419.6,260.4 417.8,261.3 416.0,262.1 414.2,262.6 412.4,263.0 410.6,263.3 408.7,263.4 406.9,263.5 405.0,263.5 403.2,263.5 401.3,263.3 399.5,263.1 397.7,262.7 395.9,262.2 394.1,261.5 392.3,260.7 390.5,259.6 388.6,258.2 386.7,256.6 384.8,254.7 382.8,252.6 380.8,250.3 378.8,247.9 376.8,245.4 374.8,242.9 372.8,240.4 370.8,238.0 368.8,235.8 366.7,233.8 364.6,232.0 362.5,230.4 360.3,229.1 358.1,228.1 355.9,227.2 353.7,226.6Z" fill="#8fd0f0"/>
<path d="M353.7,268.4 355.9,267.8 358.1,266.9 360.3,265.9 362.5,264.6 364.6,263.0 366.7,261.2 368.8,259.2 370.8,257.0 372.8,254.6 374.8,252.1 376.8,249.6 378.8,247.1 380.8,244.7 382.8,242.4 384.8,240.3 386.7,238.4 388.6,236.8 390.5,235.4 392.3,234.3 394.1,233.5 395.9,232.8 397.7,232.3 399.5,231.9 401.3,231.7 403.2,231.5 405.0,231.5 406.9,231.5 408.7,231.6 410.6,231.7 412.4,232.0 414.2,232.4 416.0,232.9 417.8,233.7 419.6,234.6 421.4,235.8 423.3,237.2 425.2,238.9 427.2,240.9 429.2,243.0 431.1,245.3 433.1,247.8 435.1,250.3 437.1,252.8 439.1,255.3 441.1,257.6 443.2,259.8 445.3,261.7 447.4,263.5 449.5,265.0 451.7,266.2 453.9,267.2 456.1,268.0 458.3,268.5 460.5,268.9 462.6,269.1 464.8,269.2 466.9,269.2 469.0,269.1 471.2,268.9 473.3,268.5 475.5,268.0 477.7,267.3 479.9,266.3 482.1,265.1 484.3,263.6 486.4,261.9 488.5,259.9 490.5,257.8 492.5,255.4 494.5,253.0 496.5,250.5 498.5,247.9 500.5,245.5 502.5,243.2 504.5,241.0 506.5,239.0 508.4,237.3 510.3,235.9 512.1,234.7 513.9,233.7 515.7,233.0 517.5,232.4 519.3,232.0 521.1,231.7 522.9,231.6 524.8,231.5 526.7,231.5 528.5,231.5 530.4,231.7 532.2,231.9 534.0,232.3 535.8,232.7 537.6,233.4 539.4,234.3 541.2,235.4 543.1,236.7 545.0,238.3 546.9,240.2 548.9,242.3 550.9,244.5 552.9,246.9 554.9,249.4 556.8,252.0 558.8,254.4 560.9,256.8 562.9,259.1 565.0,261.1 567.1,262.9 569.2,264.5 571.4,265.8 573.6,266.9 575.8,267.7 578.0,268.3 580.2,268.8 582.3,269.1 584.4,269.2 586.6,269.2 588.7,269.2 590.8,269.0 593.0,268.7 595.2,268.2 597.4,267.5 599.6,266.6 601.8,265.5 604.0,264.1 606.1,262.5 608.2,260.6 610.2,258.5 612.3,256.2 614.3,253.8 616.3,251.3 618.2,248.8 620.3,246.3 622.2,243.9 624.2,241.7 626.2,239.7 628.1,237.9 630.0,236.3 631.9,235.1 633.7,234.0 635.5,233.2 637.3,232.6 639.1,232.1 640.9,231.8 642.7,231.6 644.6,231.5 646.4,231.5 648.3,231.5 650.1,231.6 652.0,231.8 653.8,232.1 655.6,232.6 657.4,233.2 659.1,234.0 661.0,235.0 662.8,236.2 664.7,237.7 666.6,239.5 668.6,241.5 670.6,243.7 672.6,246.1 674.6,248.6 676.6,251.1 678.6,253.6 680.6,256.0 682.6,258.3 684.7,260.4 686.7,262.3 688.9,264.0 691.0,265.4 693.2,266.6 695.4,267.5 697.2,262.3 695.4,261.7 693.6,260.8 691.8,259.7 689.9,258.4 688.0,256.8 686.1,255.0 684.1,252.9 682.1,250.7 680.1,248.3 678.1,245.8 676.1,243.3 674.1,240.8 672.1,238.4 670.1,236.1 668.0,234.1 665.9,232.2 663.8,230.6 661.6,229.3 659.4,228.2 657.2,227.3 655.0,226.7 652.8,226.3 650.7,226.0 648.5,225.8 646.4,225.8 644.3,225.8 642.1,226.0 640.0,226.3 637.8,226.7 635.6,227.4 633.4,228.3 631.2,229.4 629.0,230.8 626.9,232.4 624.8,234.2 622.7,236.3 620.7,238.6 618.7,241.0 616.7,243.5 614.7,246.0 612.7,248.5 610.7,250.9 608.7,253.1 606.8,255.2 604.8,257.0 602.9,258.5 601.1,259.8 599.3,260.9 597.5,261.7 595.7,262.4 593.9,262.8 592.1,263.2 590.3,263.4 588.4,263.5 586.5,263.5 584.7,263.5 582.8,263.4 581.0,263.2 579.2,262.9 577.4,262.5 575.6,261.9 573.8,261.1 572.0,260.1 570.1,258.9 568.2,257.4 566.3,255.7 564.4,253.7 562.4,251.5 560.4,249.1 558.4,246.6 556.4,244.1 554.4,241.6 552.4,239.2 550.4,236.9 548.3,234.7 546.2,232.8 544.1,231.1 542.0,229.7 539.8,228.5 537.6,227.6 535.4,226.9 533.2,226.4 531.0,226.0 528.9,225.8 526.7,225.8 524.6,225.8 522.5,225.9 520.3,226.2 518.1,226.6 515.9,227.2 513.7,228.0 511.5,229.0 509.4,230.3 507.2,231.8 505.1,233.6 503.0,235.6 501.0,237.8 499.0,240.1 497.0,242.6 495.0,245.1 493.0,247.6 491.0,250.1 489.0,252.4 487.0,254.5 485.1,256.4 483.2,258.0 481.3,259.4 479.5,260.6 477.7,261.5 475.9,262.2 474.1,262.7 472.3,263.1 470.5,263.3 468.6,263.5 466.8,263.5 464.9,263.5 463.1,263.5 461.2,263.3 459.4,263.0 457.6,262.6 455.8,262.1 454.0,261.4 452.2,260.5 450.4,259.4 448.5,257.9 446.6,256.3 444.6,254.4 442.7,252.2 440.7,249.9 438.7,247.5 436.7,245.0 434.7,242.5 432.7,240.0 430.7,237.6 428.6,235.4 426.6,233.5 424.4,231.7 422.3,230.2 420.1,228.9 417.9,227.9 415.7,227.1 413.5,226.5 411.3,226.1 409.2,225.9 407.1,225.8 404.9,225.8 402.8,225.9 400.7,226.1 398.5,226.4 396.3,226.9 394.1,227.7 391.9,228.6 389.7,229.8 387.5,231.2 385.4,232.9 383.3,234.9 381.3,237.0 379.3,239.3 377.3,241.8 375.3,244.3 373.3,246.8 371.3,249.3 369.3,251.6 367.3,253.8 365.4,255.8 363.4,257.5 361.5,259.0 359.7,260.2 357.9,261.2 356.1,261.9 354.3,262.5 352.5,262.9Z" fill="#8fd0f0"/>
<path d="M365.8,241.7 366.8,242.7 367.8,243.8 368.8,244.9 369.7,246.1 370.7,247.3 371.7,248.5 372.7,249.8 373.7,251.0 374.7,252.3 375.7,253.6 376.8,254.8 377.8,256.1 378.8,257.3 379.8,258.5 385.4,253.3 384.4,252.3 383.4,251.2 382.4,250.1 381.5,248.9 380.5,247.7 379.5,246.5 378.5,245.2 377.5,244.0 376.5,242.7 375.5,241.4 374.4,240.2 373.4,238.9 372.4,237.7 371.4,236.5Z" fill="#fff"/>
<path d="M364.4,238.4 365.4,239.3 366.4,240.2 367.3,241.2 368.3,242.3 369.3,243.4 370.3,244.6 371.3,245.8 372.3,247.0 373.3,248.3 374.3,249.5 375.3,250.8 376.3,252.1 377.3,253.3 378.3,254.6 379.3,255.8 380.3,256.9 381.4,258.1 382.4,259.2 383.4,260.2 386.8,256.6 385.8,255.7 384.8,254.8 383.9,253.8 382.9,252.7 381.9,251.6 380.9,250.4 379.9,249.2 378.9,248.0 377.9,246.7 376.9,245.5 375.9,244.2 374.9,242.9 373.9,241.7 372.9,240.4 371.9,239.2 370.9,238.1 369.8,236.9 368.8,235.8 367.8,234.8Z" fill="#8fd0f0"/>
<path d="M426.0,241.7 427.0,242.7 428.0,243.8 429.0,244.9 429.9,246.1 430.9,247.3 431.9,248.5 432.9,249.8 433.9,251.0 434.9,252.3 435.9,253.6 437.0,254.8 438.0,256.1 439.0,257.3 440.0,258.5 445.6,253.3 444.6,252.3 443.6,251.2 442.6,250.1 441.7,248.9 440.7,247.7 439.7,246.5 438.7,245.2 437.7,244.0 436.7,242.7 435.7,241.4 434.6,240.2 433.6,238.9 432.6,237.7 431.6,236.5Z" fill="#fff"/>
<path d="M424.6,238.4 425.6,239.3 426.6,240.2 427.5,241.2 428.5,242.3 429.5,243.4 430.5,244.6 431.5,245.8 432.5,247.0 433.5,248.3 434.5,249.5 435.5,250.8 436.5,252.1 437.5,253.3 438.5,254.6 439.5,255.8 440.5,256.9 441.6,258.1 442.6,259.2 443.6,260.2 447.0,256.6 446.0,255.7 445.0,254.8 444.1,253.8 443.1,252.7 442.1,251.6 441.1,250.4 440.1,249.2 439.1,248.0 438.1,246.7 437.1,245.5 436.1,244.2 435.1,242.9 434.1,241.7 433.1,240.4 432.1,239.2 431.1,238.1 430.0,236.9 429.0,235.8 428.0,234.8Z" fill="#8fd0f0"/>
<path d="M486.2,241.7 487.2,242.7 488.2,243.8 489.2,244.9 490.1,246.1 491.1,247.3 492.1,248.5 493.1,249.8 494.1,251.0 495.1,252.3 496.1,253.6 497.2,254.8 498.2,256.1 499.2,257.3 500.2,258.5 505.8,253.3 504.8,252.3 503.8,251.2 502.8,250.1 501.9,248.9 500.9,247.7 499.9,246.5 498.9,245.2 497.9,244.0 496.9,242.7 495.9,241.4 494.8,240.2 493.8,238.9 492.8,237.7 491.8,236.5Z" fill="#fff"/>
<path d="M484.8,238.4 485.8,239.3 486.8,240.2 487.7,241.2 488.7,242.3 489.7,243.4 490.7,244.6 491.7,245.8 492.7,247.0 493.7,248.3 494.7,249.5 495.7,250.8 496.7,252.1 497.7,253.3 498.7,254.6 499.7,255.8 500.7,256.9 501.8,258.1 502.8,259.2 503.8,260.2 507.2,256.6 506.2,255.7 505.2,254.8 504.3,253.8 503.3,252.7 502.3,251.6 501.3,250.4 500.3,249.2 499.3,248.0 498.3,246.7 497.3,245.5 496.3,244.2 495.3,242.9 494.3,241.7 493.3,240.4 492.3,239.2 491.3,238.1 490.2,236.9 489.2,235.8 488.2,234.8Z" fill="#8fd0f0"/>
<path d="M546.4,241.7 547.4,242.7 548.4,243.8 549.4,244.9 550.3,246.1 551.3,247.3 552.3,248.5 553.3,249.8 554.3,251.0 555.3,252.3 556.3,253.6 557.4,254.8 558.4,256.1 559.4,257.3 560.4,258.5 566.0,253.3 565.0,252.3 564.0,251.2 563.0,250.1 562.1,248.9 561.1,247.7 560.1,246.5 559.1,245.2 558.1,244.0 557.1,242.7 556.1,241.4 555.0,240.2 554.0,238.9 553.0,237.7 552.0,236.5Z" fill="#fff"/>
<path d="M545.0,238.4 546.0,239.3 547.0,240.2 547.9,241.2 548.9,242.3 549.9,243.4 550.9,244.6 551.9,245.8 552.9,247.0 553.9,248.3 554.9,249.5 555.9,250.8 556.9,252.1 557.9,253.3 558.9,254.6 559.9,255.8 560.9,256.9 562.0,258.1 563.0,259.2 564.0,260.2 567.4,256.6 566.4,255.7 565.4,254.8 564.5,253.8 563.5,252.7 562.5,251.6 561.5,250.4 560.5,249.2 559.5,248.0 558.5,246.7 557.5,245.5 556.5,244.2 555.5,242.9 554.5,241.7 553.5,240.4 552.5,239.2 551.5,238.1 550.4,236.9 549.4,235.8 548.4,234.8Z" fill="#8fd0f0"/>
<path d="M606.6,241.7 607.6,242.7 608.6,243.8 609.6,244.9 610.5,246.1 611.5,247.3 612.5,248.5 613.5,249.8 614.5,251.0 615.5,252.3 616.5,253.6 617.6,254.8 618.6,256.1 619.6,257.3 620.6,258.5 626.2,253.3 625.2,252.3 624.2,251.2 623.2,250.1 622.3,248.9 621.3,247.7 620.3,246.5 619.3,245.2 618.3,244.0 617.3,242.7 616.3,241.4 615.2,240.2 614.2,238.9 613.2,237.7 612.2,236.5Z" fill="#fff"/>
<path d="M605.2,238.4 606.2,239.3 607.2,240.2 608.1,241.2 609.1,242.3 610.1,243.4 611.1,244.6 612.1,245.8 613.1,247.0 614.1,248.3 615.1,249.5 616.1,250.8 617.1,252.1 618.1,253.3 619.1,254.6 620.1,255.8 621.1,256.9 622.2,258.1 623.2,259.2 624.2,260.2 627.6,256.6 626.6,255.7 625.6,254.8 624.7,253.8 623.7,252.7 622.7,251.6 621.7,250.4 620.7,249.2 619.7,248.0 618.7,246.7 617.7,245.5 616.7,244.2 615.7,242.9 614.7,241.7 613.7,240.4 612.7,239.2 611.7,238.1 610.6,236.9 609.6,235.8 608.6,234.8Z" fill="#8fd0f0"/>
<path d="M666.8,241.7 667.8,242.7 668.8,243.8 669.8,244.9 670.7,246.1 671.7,247.3 672.7,248.5 673.7,249.8 674.7,251.0 675.7,252.3 676.7,253.6 677.8,254.8 678.8,256.1 679.8,257.3 680.8,258.5 686.4,253.3 685.4,252.3 684.4,251.2 683.4,250.1 682.5,248.9 681.5,247.7 680.5,246.5 679.5,245.2 678.5,244.0 677.5,242.7 676.5,241.4 675.4,240.2 674.4,238.9 673.4,237.7 672.4,236.5Z" fill="#fff"/>
<path d="M665.4,238.4 666.4,239.3 667.4,240.2 668.3,241.2 669.3,242.3 670.3,243.4 671.3,244.6 672.3,245.8 673.3,247.0 674.3,248.3 675.3,249.5 676.3,250.8 677.3,252.1 678.3,253.3 679.3,254.6 680.3,255.8 681.3,256.9 682.4,258.1 683.4,259.2 684.4,260.2 687.8,256.6 686.8,255.7 685.8,254.8 684.9,253.8 683.9,252.7 682.9,251.6 681.9,250.4 680.9,249.2 679.9,248.0 678.9,246.7 677.9,245.5 676.9,244.2 675.9,242.9 674.9,241.7 673.9,240.4 672.9,239.2 671.9,238.1 670.8,236.9 669.8,235.8 668.8,234.8Z" fill="#8fd0f0"/>
<rect x="361.1" y="230.3" width="2.3" height="34.4" fill="#8fd0f0"/>
</g>
<text transform="matrix(1.0000 0 0 1 0 300.55)" x="423.50 446.70 470.40 494.00 517.20 540.80 560.70 580.20 599.20 617.70 636.70" text-anchor="middle" font-size="21.60" font-weight="700" fill="#1c1c1c" font-family='"Liberation Sans", "Noto Sans CJK JP", sans-serif'>遺伝病を発症しなくなる</text>
<rect x="369" y="350.2" width="23" height="22.8" fill="#646262"/>
<text transform="matrix(1.0000 0 0 1 398.81 370.74)" font-size="23.80" font-weight="900" fill="#1c1c1c" font-family='"Liberation Sans", "Noto Sans CJK JP", sans-serif' letter-spacing="0.422" stroke="#1c1c1c" stroke-width="0.5" stroke-linejoin="round">主な課題</text>
<circle cx="377.8" cy="403.8" r="5" fill="#c7148c"/>
<text transform="matrix(0.9300 0 0 1 0 411.46)" x="430.54 457.63 484.19 508.17 534.41 560.75 583.33 606.88 629.89" text-anchor="middle" font-size="23.60" font-weight="500" fill="#1c1c1c" font-family='"Liberation Sans", "Noto Sans CJK JP", sans-serif'>筋肉量を増やしたり</text>
<text transform="matrix(1.0000 0 0 1 0 411.30)" x="595.70 609.80" text-anchor="middle" font-size="25.60" font-weight="400" fill="#1c1c1c" font-family='"Liberation Sans", "Noto Sans CJK JP", sans-serif' stroke="#1c1c1c" stroke-width="0.35" stroke-linejoin="round">IQ</text>
<text transform="matrix(0.9300 0 0 1 621.62 411.46)" font-size="23.60" font-weight="500" fill="#1c1c1c" font-family='"Liberation Sans", "Noto Sans CJK JP", sans-serif' letter-spacing="1.283">を高め</text>
<text transform="matrix(0.9300 0 0 1 387.81 439.76)" font-size="23.60" font-weight="500" fill="#1c1c1c" font-family='"Liberation Sans", "Noto Sans CJK JP", sans-serif' letter-spacing="-0.445">たりするデザイナーベビーに利</text>
<text transform="matrix(0.9300 0 0 1 389.64 467.76)" font-size="23.60" font-weight="500" fill="#1c1c1c" font-family='"Liberation Sans", "Noto Sans CJK JP", sans-serif' letter-spacing="-1.545">用されるおそれ</text>
<circle cx="377.8" cy="503.8" r="5" fill="#c7148c"/>
<text transform="matrix(0.9300 0 0 1 389.64 512.56)" font-size="23.60" font-weight="500" fill="#1c1c1c" font-family='"Liberation Sans", "Noto Sans CJK JP", sans-serif' letter-spacing="1.284">狙った部分でないところを編</text>
<text transform="matrix(0.9300 0 0 1 390.04 540.76)" font-size="23.60" font-weight="500" fill="#1c1c1c" font-family='"Liberation Sans", "Noto Sans CJK JP", sans-serif' letter-spacing="-0.534">集するなど<tspan style="font-feature-settings:'halt'">、</tspan>予期せぬリスク</text>
<circle cx="377.8" cy="583" r="5" fill="#c7148c"/>
<text transform="matrix(0.9300 0 0 1 389.60 590.96)" font-size="23.60" font-weight="500" fill="#1c1c1c" font-family='"Liberation Sans", "Noto Sans CJK JP", sans-serif' letter-spacing="1.287">受精卵の段階で遺伝病を防ぐ</text>
<text transform="matrix(0.9300 0 0 1 387.19 618.86)" font-size="23.60" font-weight="500" fill="#1c1c1c" font-family='"Liberation Sans", "Noto Sans CJK JP", sans-serif' letter-spacing="-0.640">こと自体の是非など</text>
</svg></body></html>
